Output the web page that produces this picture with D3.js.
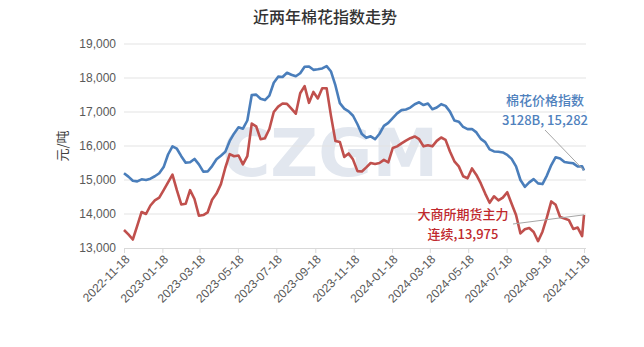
<!DOCTYPE html>
<html><head><meta charset="utf-8">
<script src="https://cdn.jsdelivr.net/npm/d3@7"></script>
<style>
html,body{margin:0;padding:0;background:#fff;}
svg{display:block;}
</style></head>
<body>
<svg id="chart" width="644" height="347"></svg>
<script>
const dates = [
"2022-11-18","2022-11-25","2022-12-02","2022-12-09","2022-12-16","2022-12-23","2022-12-30",
"2023-01-06","2023-01-13","2023-01-20","2023-01-27","2023-02-03","2023-02-10","2023-02-17","2023-02-24",
"2023-03-03","2023-03-10","2023-03-17","2023-03-24","2023-03-31","2023-04-07","2023-04-14","2023-04-21","2023-04-28",
"2023-05-05","2023-05-12","2023-05-19","2023-05-26","2023-06-02","2023-06-09","2023-06-16","2023-06-23","2023-06-30",
"2023-07-07","2023-07-14","2023-07-21","2023-07-28","2023-08-04","2023-08-11","2023-08-18","2023-08-25",
"2023-09-01","2023-09-08","2023-09-15","2023-09-22","2023-09-29","2023-10-06","2023-10-13","2023-10-20","2023-10-27",
"2023-11-03","2023-11-10","2023-11-17","2023-11-24","2023-12-01","2023-12-08","2023-12-15","2023-12-22","2023-12-29",
"2024-01-05","2024-01-12","2024-01-19","2024-01-26","2024-02-02","2024-02-09","2024-02-16","2024-02-23",
"2024-03-01","2024-03-08","2024-03-15","2024-03-22","2024-03-29","2024-04-05","2024-04-12","2024-04-19","2024-04-26",
"2024-05-03","2024-05-10","2024-05-17","2024-05-24","2024-05-31","2024-06-07","2024-06-14","2024-06-21","2024-06-28",
"2024-07-05","2024-07-12","2024-07-19","2024-07-26","2024-08-02","2024-08-09","2024-08-16","2024-08-23","2024-08-30",
"2024-09-06","2024-09-13","2024-09-20","2024-09-27","2024-10-04","2024-10-11","2024-10-18","2024-10-25",
"2024-11-01","2024-11-08","2024-11-15","2024-11-18"
];
const cottonIndex = [
15200,15100,14980,14960,15020,15000,15040,
15110,15200,15380,15750,15990,15920,15700,15510,
15520,15620,15460,15245,15250,15410,15610,15715,15830,
16150,16370,16550,16510,16750,17500,17510,17390,17350,
17480,17860,18040,18030,18155,18095,18050,18140,
18330,18340,18240,18255,18280,18350,18190,17780,17260,
17100,17020,16890,16640,16350,16240,16285,16200,16360,
16590,16680,16820,16960,17055,17075,17130,17230,
17285,17205,17250,17080,17130,17230,17180,17010,16750,
16715,16560,16495,16500,16400,16210,16115,15900,15840,
15830,15810,15740,15620,15400,15000,14800,14930,15025,
14900,14880,15130,15440,15670,15630,15530,15510,
15490,15395,15400,15282
];
const dceFutures = [
13530,13400,13250,13650,14060,14000,14250,
14400,14480,14700,14930,15160,14700,14280,14300,
14700,14440,13950,13970,14050,14420,14600,14880,15360,
15760,15700,15720,15460,15700,16660,16580,16200,16230,
16500,17000,17160,17250,17240,17100,16950,17550,
17760,17270,17590,17400,17700,17700,16880,16150,16120,
15680,15780,15600,15260,15250,15370,15500,15470,15500,
15590,15520,15940,15990,16075,16160,16230,16280,
16200,15990,16020,15990,16150,16250,16180,15840,15550,
15400,15110,15050,15340,15150,14900,14600,14330,14520,
14400,14480,14640,14300,13970,13430,13550,13590,13470,
13200,13480,13900,14370,14270,13910,13870,13820,
13560,13600,13350,13975
];
const yTicks = [13000,14000,15000,16000,17000,18000,19000];
const xTickLabels = ["2022-11-18","2023-01-18","2023-03-18","2023-05-18","2023-07-18","2023-09-18",
"2023-11-18","2024-01-18","2024-03-18","2024-05-18","2024-07-18","2024-09-18","2024-11-18"];
const title = "近两年棉花指数走势";
const yTitle = "元/吨";
const cottonLabel = ["棉花价格指数", "3128B, 15,282"];
const dceLabel = ["大商所期货主力", "连续,13,975"];

const parse = d3.timeParse("%Y-%m-%d");
const svg = d3.select("#chart");
const x = d3.scaleTime().domain([parse("2022-11-18"), parse("2024-11-18")]).range([124, 584]);
const y = d3.scaleLinear().domain([13000, 19000]).range([248, 44]);
const font = "'Liberation Sans', Arial, sans-serif";
const cjk = "'Noto Sans CJK SC', sans-serif";

// watermark
svg.append("text").attr("x", 330).attr("y", 176).attr("text-anchor", "middle")
  .attr("font-family", "'DejaVu Sans', sans-serif").attr("font-weight", "bold")
  .attr("font-size", 66).attr("fill", "#e2e7ef").text("CZGM");

// gridlines
svg.append("g").selectAll("line").data(yTicks.slice(1)).join("line")
  .attr("x1", 124).attr("x2", 586).attr("y1", d => y(d)).attr("y2", d => y(d))
  .attr("stroke", "#e3e3e3").attr("stroke-width", 1);

// y labels
svg.append("g").selectAll("text").data(yTicks).join("text")
  .attr("x", 116).attr("y", d => y(d)).attr("dy", "0.35em").attr("text-anchor", "end")
  .attr("font-family", font).attr("font-size", 12).attr("fill", "#595959")
  .text(d => d3.format(",")(d));

// x axis
const xAxis = d3.axisBottom(x).tickValues(xTickLabels.map(parse))
  .tickFormat(d3.timeFormat("%Y-%m-%d")).tickSize(5).tickSizeOuter(0);
const gx = svg.append("g").attr("transform", `translate(0,${y(13000)})`).call(xAxis);
gx.select(".domain").attr("stroke", "#d9d9d9").attr("d", "M124,0.5H586");
gx.selectAll(".tick line").attr("stroke", "#d9d9d9");
gx.selectAll(".tick text").attr("font-family", font).attr("font-size", 12).attr("fill", "#595959")
  .attr("text-anchor", "end").attr("dx", 0).attr("dy", 0)
  .attr("transform", "translate(6,12) rotate(-45)").attr("y", 0).attr("x", 0);

// lines
const line = vals => d3.line().x((d, i) => x(parse(dates[i]))).y(d => y(d))(vals);
svg.append("path").attr("d", line(dceFutures)).attr("fill", "none")
  .attr("stroke", "#c0504d").attr("stroke-width", 2.6).attr("stroke-linejoin", "round");
svg.append("path").attr("d", line(cottonIndex)).attr("fill", "none")
  .attr("stroke", "#4a7ebb").attr("stroke-width", 2.6).attr("stroke-linejoin", "round");

// leader lines
const last = dates.length - 1;
svg.append("line").attr("x1", 545).attr("y1", 130).attr("x2", x(parse(dates[last]))).attr("y2", y(cottonIndex[last]))
  .attr("stroke", "#a6a6a6").attr("stroke-width", 1);
svg.append("line").attr("x1", 513).attr("y1", 224).attr("x2", x(parse(dates[last]))).attr("y2", y(dceFutures[last]))
  .attr("stroke", "#a6a6a6").attr("stroke-width", 1);

// annotations
const annot = (lines, cx, y0, color) => {
  svg.append("g").selectAll("text").data(lines).join("text")
    .attr("x", cx).attr("y", (d, i) => y0 + i * 19.5).attr("text-anchor", "middle")
    .attr("font-family", cjk).attr("font-size", 13).attr("font-weight", 500).attr("fill", color).text(d => d);
};
annot(cottonLabel, 545, 105, "#4f81bd");
annot(dceLabel, 463, 219, "#c0282d");

// titles
svg.append("text").attr("x", 325).attr("y", 23).attr("text-anchor", "middle")
  .attr("font-family", cjk).attr("font-size", 16).attr("font-weight", 500).attr("fill", "#333").text(title);
svg.append("text").attr("transform", "translate(67,146) rotate(-90)").attr("text-anchor", "middle")
  .attr("font-family", cjk).attr("font-size", 13).attr("fill", "#404040").text(yTitle);
</script>
</body></html>
